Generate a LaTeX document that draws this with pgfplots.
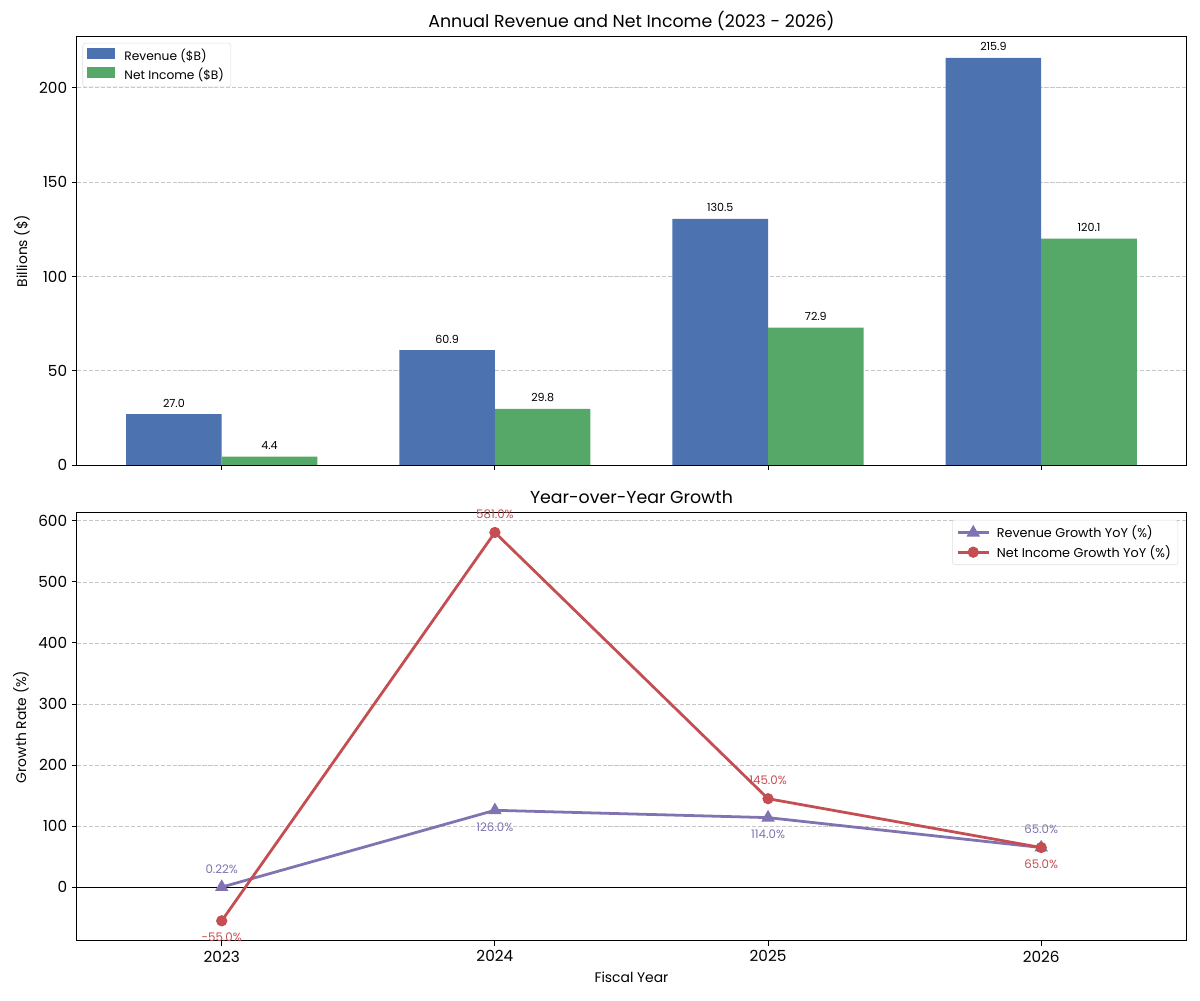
\documentclass[border=0pt]{standalone}
\usepackage{fontspec}
\setmainfont{Poppins}
\usepackage{pgfplots}
\pgfplotsset{compat=1.18}
\definecolor{revblue}{HTML}{4C72B0}
\definecolor{nigreen}{HTML}{55A868}
\definecolor{revpurple}{HTML}{8172B2}
\definecolor{nired}{HTML}{C44E52}

\pgfplotsset{
  panel/.style={
    scale only axis, width=798.5pt, height=308.2pt,
    xmin=-0.53, xmax=3.53, xtick={0,1,2,3},
    tick align=outside, xtick pos=bottom, ytick pos=left,
    major tick length=3.5pt,
    ymajorgrids, grid style={gray!45, dash pattern=on 3pt off 1.3pt, line width=0.6pt},
    tick label style={font=\fontsize{11}{11}\selectfont},
    /pgf/number format/assume math mode=true,
    label style={font=\fontsize{10}{10}\selectfont},
    title style={font=\fontsize{12.5}{13}\selectfont, at={(0.5,1)}, anchor=base, yshift=1pt},
    axis line style={line width=0.7pt},
    every tick/.style={black, line width=0.7pt},
    legend cell align=left,
    legend style={draw=gray!25, rounded corners=2pt, fill=white},
  },
  barlab/.style={nodes near coords, nodes near coords style={font=\fontsize{8}{8}\selectfont,
      text=black, anchor=south, yshift=1.5pt,
      /pgf/number format/fixed, /pgf/number format/precision=1, /pgf/number format/fixed zerofill}},
  uplab/.style={draw=none, no marks, forget plot, point meta=explicit symbolic, nodes near coords,
      nodes near coords style={anchor=base, yshift=10pt, text=#1, font=\fontsize{8.5}{9}\selectfont}},
  downlab/.style={draw=none, no marks, forget plot, point meta=explicit symbolic, nodes near coords,
      nodes near coords style={anchor=base, yshift=-15pt, text=#1, font=\fontsize{8.5}{9}\selectfont}},
}

\begin{document}
\begin{tikzpicture}
\useasboundingbox (0,0) rectangle (864pt,720pt);

% top panel: revenue and net income (bars centred at category -/+ 0.175)
\begin{axis}[panel, at={(55.4pt,385.2pt)}, anchor=south west,
    ymin=0, ymax=227, ytick={0,50,100,150,200}, xticklabels={},
    ylabel={Billions (\$)}, title={Annual Revenue and Net Income (2023 - 2026)},
    legend style={at={(0.005,0.986)}, anchor=north west, font=\fontsize{8.8}{10.5}\selectfont},
    legend image code/.code={\fill[#1, sharp corners] (0pt,-2.5pt) rectangle (20pt,5.5pt);
      \path (25pt,0pt);}]
\addplot[ybar, bar width=0.35, bar shift=0, fill=revblue, draw=none, barlab]
  coordinates {(-0.175,27.0) (0.825,60.9) (1.825,130.5) (2.825,215.9)};
\addlegendentry{Revenue (\$B)}
\addplot[ybar, bar width=0.35, bar shift=0, fill=nigreen, draw=none, barlab]
  coordinates {(0.175,4.4) (1.175,29.8) (2.175,72.9) (3.175,120.1)};
\addlegendentry{Net Income (\$B)}
\end{axis}

% bottom panel: growth
\begin{axis}[panel, at={(55.4pt,42.5pt)}, anchor=south west,
    ymin=-88, ymax=613, ytick={0,100,200,300,400,500,600},
    xticklabels={2023,2024,2025,2026},
    xlabel={Fiscal Year}, ylabel={Growth Rate (\%)}, title={Year-over-Year Growth},
    legend style={at={(0.993,0.984)}, anchor=north east, font=\fontsize{9.2}{10.5}\selectfont},
    legend image code/.code={\draw[mark repeat=2, mark phase=2, sharp corners, #1]
      plot coordinates {(0pt,0pt) (11pt,0pt) (22pt,0pt)}; \path (25pt,0pt);}]
\addplot[black, line width=0.7pt, forget plot] coordinates {(-0.53,0) (3.53,0)};
\addplot[revpurple, line width=2pt, mark=triangle*, mark size=3.6pt]
  coordinates {(0,0.22) (1,126) (2,114) (3,65)};
\addlegendentry{Revenue Growth YoY (\%)}
\addplot[nired, line width=2pt, mark=*, mark size=3pt]
  coordinates {(0,-55) (1,581) (2,145) (3,65)};
\addlegendentry{Net Income Growth YoY (\%)}
\addplot[uplab=revpurple] coordinates {(0,0.22) [0.22\%] (3,65) [65.0\%]};
\addplot[downlab=revpurple] coordinates {(1,126) [126.0\%] (2,114) [114.0\%]};
\addplot[uplab=nired] coordinates {(1,581) [581.0\%] (2,145) [145.0\%]};
\addplot[downlab=nired] coordinates {(0,-55) [-55.0\%] (3,65) [65.0\%]};
\end{axis}
\end{tikzpicture}
\end{document}
